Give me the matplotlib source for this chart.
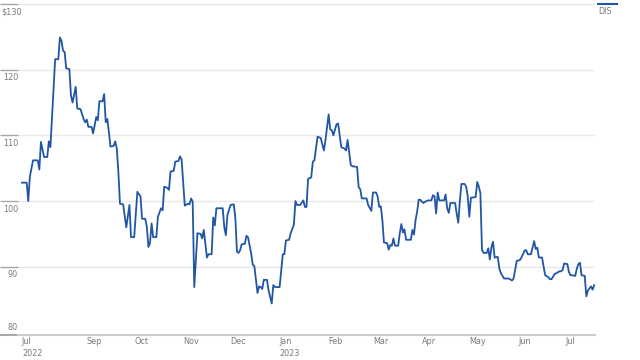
import pandas as pd
import matplotlib
matplotlib.use('Agg')
import matplotlib.pyplot as plt
import matplotlib.dates as mdates
from matplotlib.lines import Line2D
import matplotlib.transforms as mtransforms

plt.rcParams['font.family'] = ['DejaVu Sans']
plt.rcParams['font.stretch'] = 'condensed'

# DIS closing prices (days counted from the first point)
start = pd.Timestamp('2022-07-22')
days = [0, 3, 4, 5, 7, 10, 11, 12, 14, 16, 17, 18, 21, 23, 24, 25, 26, 27, 28, 30,
        31, 32, 34, 35, 37, 39, 40, 41, 42, 44, 45, 47, 48, 49, 51, 52, 53, 54, 55, 56,
        58, 59, 60, 61, 62, 64, 66, 68, 69, 71, 73, 75, 76, 78, 79, 80, 81, 82, 83, 85,
        86, 88, 89, 90, 92, 93, 94, 96, 97, 99, 100, 101, 102, 103, 105, 106, 107, 108, 109, 110,
        111, 113, 114, 115, 116, 117, 118, 120, 121, 122, 123, 127, 128, 129, 130, 132, 134, 135, 136, 137,
        138, 139, 141, 142, 143, 145, 146, 147, 149, 150, 151, 152, 153, 155, 156, 158, 159, 160, 163, 165,
        166, 167, 169, 170, 172, 173, 174, 176, 178, 179, 180, 181, 183, 184, 185, 187, 189, 191, 192, 194,
        195, 196, 197, 199, 200, 202, 204, 205, 206, 208, 209, 212, 213, 214, 215, 218, 219, 221, 222, 224,
        225, 226, 227, 228, 229, 231, 232, 233, 234, 235, 236, 238, 239, 240, 241, 242, 243, 246, 247, 248,
        249, 250, 251, 252, 253, 254, 255, 257, 259, 260, 261, 262, 263, 264, 267, 268, 269, 270, 271, 274,
        275, 276, 277, 278, 280, 281, 282, 283, 284, 287, 288, 289, 290, 291, 292, 294, 295, 296, 297, 298,
        299, 301, 302, 303, 305, 308, 310, 311, 313, 315, 317, 318, 319, 320, 322, 324, 325, 326, 327, 329,
        330, 331, 333, 334, 335, 337, 338, 340, 341, 342, 343, 345, 346, 347, 348, 350, 351, 352, 353, 354,
        356, 357, 358, 360, 361, 362]
prices = [102.8, 102.8, 100.0, 103.7, 106.2, 106.2, 104.8, 109.0, 106.7, 106.7, 109.1, 108.2, 121.6, 121.6, 124.9, 124.4, 122.9, 122.7, 120.2, 120.1,
          116.1, 115.0, 117.4, 114.1, 114.0, 112.5, 112.0, 112.4, 111.3, 111.3, 110.3, 112.8, 112.3, 115.2, 115.2, 116.3, 112.0, 112.5, 110.5, 108.3,
          108.4, 109.1, 108.0, 104.4, 99.6, 99.5, 96.0, 99.4, 94.5, 94.5, 101.4, 100.7, 97.3, 97.3, 96.1, 93.0, 93.6, 96.6, 94.5, 94.5,
          97.6, 98.9, 98.6, 102.2, 102.0, 101.7, 104.5, 104.6, 106.0, 106.1, 106.8, 106.3, 102.8, 99.3, 99.6, 99.5, 100.4, 99.9, 86.9, 91.0,
          95.1, 95.0, 94.3, 95.6, 93.6, 91.4, 91.9, 91.9, 97.5, 96.3, 98.9, 98.9, 96.0, 94.8, 97.9, 99.4, 99.5, 97.4, 92.3, 92.1,
          92.5, 93.4, 93.5, 94.7, 94.5, 92.0, 90.3, 90.1, 86.0, 87.0, 86.9, 86.6, 88.0, 88.0, 86.4, 84.4, 87.2, 86.9, 86.9, 91.9,
          91.9, 94.0, 94.1, 95.1, 96.4, 100.0, 99.4, 99.4, 100.1, 99.1, 99.1, 103.4, 103.6, 106.0, 106.2, 109.8, 109.6, 107.7, 109.3, 113.2,
          110.9, 110.8, 110.0, 111.7, 111.8, 108.2, 108.0, 107.7, 109.3, 105.5, 105.3, 105.2, 102.1, 101.8, 100.4, 100.4, 99.4, 98.5, 101.3, 101.3,
          100.7, 99.1, 99.2, 97.1, 93.7, 93.6, 92.6, 93.3, 93.2, 94.3, 93.2, 93.2, 95.1, 96.5, 95.2, 95.7, 94.1, 94.1, 95.6, 94.9,
          97.1, 98.4, 100.2, 100.2, 99.9, 99.7, 99.9, 100.1, 100.1, 100.9, 100.7, 98.1, 101.3, 100.1, 100.1, 101.0, 98.9, 98.2, 99.7, 99.7,
          98.1, 96.7, 100.0, 102.6, 102.6, 102.2, 100.7, 97.6, 100.5, 100.6, 102.9, 102.2, 101.2, 92.6, 92.1, 92.1, 92.8, 91.1, 93.0, 93.8,
          91.4, 91.5, 89.7, 89.0, 88.2, 88.2, 87.9, 88.2, 90.9, 91.0, 91.9, 92.5, 92.5, 91.9, 91.9, 93.9, 92.7, 92.9, 91.4, 91.4,
          90.0, 88.7, 88.4, 88.1, 88.1, 88.9, 89.0, 89.3, 89.3, 89.5, 90.5, 90.4, 89.2, 88.7, 88.7, 88.6, 89.7, 90.4, 90.6, 88.7,
          88.6, 85.5, 86.4, 87.0, 86.5, 87.2]
dates = start + pd.to_timedelta(days, unit='D')

month_ticks = ['2022-07-22', '2022-09-01', '2022-10-01', '2022-11-01', '2022-12-01', '2023-01-01',
               '2023-02-01', '2023-03-01', '2023-04-01', '2023-05-01', '2023-06-01', '2023-07-01']
month_labels = ['Jul\n2022', 'Sep', 'Oct', 'Nov', 'Dec', 'Jan\n2023',
                'Feb', 'Mar', 'Apr', 'May', 'Jun', 'Jul']
price_ticks = [90, 100, 110, 120, 130]
price_labels = ['90', '100', '110', '120', '$130']

blue = '#2156a5'
grey_txt = '#7a7a7a'

fig = plt.figure(figsize=(6.4, 3.6), dpi=100)
ax = fig.add_axes([18/640, 25/360, 577/640, 331.6/360])
ax.plot(dates, prices, color=blue, lw=1.3)

ax.set_xlim(start - pd.Timedelta(days=2.5), start + pd.Timedelta(days=362.5))
ax.set_ylim(79.6, 130.1)

for s in ['top', 'right', 'left']:
    ax.spines[s].set_visible(False)
ax.spines['bottom'].set_color('#cccccc')
ax.spines['bottom'].set_linewidth(1.5)

ax.set_yticks(price_ticks)
ax.set_yticklabels([])
ax.tick_params(axis='y', length=13, width=1, color='#a8a8a8')
ax.set_xticks([])
ax.grid(axis='y', color='#e8e8e8', lw=1)
ax.set_axisbelow(True)

# dark stub on the bottom line, like the y ticks
ax.plot([-18/577, 0], [0, 0], transform=ax.transAxes, color='#a8a8a8', lw=1.5, clip_on=False)

# y labels sit under the gridlines; the top one is wider, so it starts at the left edge
ytrans = mtransforms.blended_transform_factory(ax.transAxes, ax.transData)
for v, lab in zip(price_ticks, price_labels):
    if lab.startswith('$'):
        ax.annotate(lab, xy=(-17/577, v), xycoords=ytrans, xytext=(0, -2.5), textcoords='offset points',
                    ha='left', va='top', fontsize=6.5, color=grey_txt)
    else:
        ax.annotate(lab, xy=(0, v), xycoords=ytrans, xytext=(0, -2.5), textcoords='offset points',
                    ha='right', va='top', fontsize=6.5, color=grey_txt)
ax.annotate('80', xy=(0, 80), xycoords=ytrans, xytext=(0, 0.5), textcoords='offset points',
            ha='right', va='bottom', fontsize=6.5, color=grey_txt)

# month labels under the axis
xtrans = mtransforms.blended_transform_factory(ax.transData, ax.transAxes)
for d, lab in zip(month_ticks, month_labels):
    ax.annotate(lab, xy=(mdates.date2num(pd.Timestamp(d)), 0), xycoords=xtrans, xytext=(0, -1.8),
                textcoords='offset points', ha='left', va='top', fontsize=6.5, color=grey_txt,
                linespacing=1.4)

# legend key at the top right
fig.add_artist(Line2D([598/640, 617/640], [1 - 4/360, 1 - 4/360], color=blue, lw=1.5))
fig.text(598/640, 1 - 7/360, 'DIS', ha='left', va='top', fontsize=6.5, color=grey_txt)

fig.savefig('out.png', dpi=100)
